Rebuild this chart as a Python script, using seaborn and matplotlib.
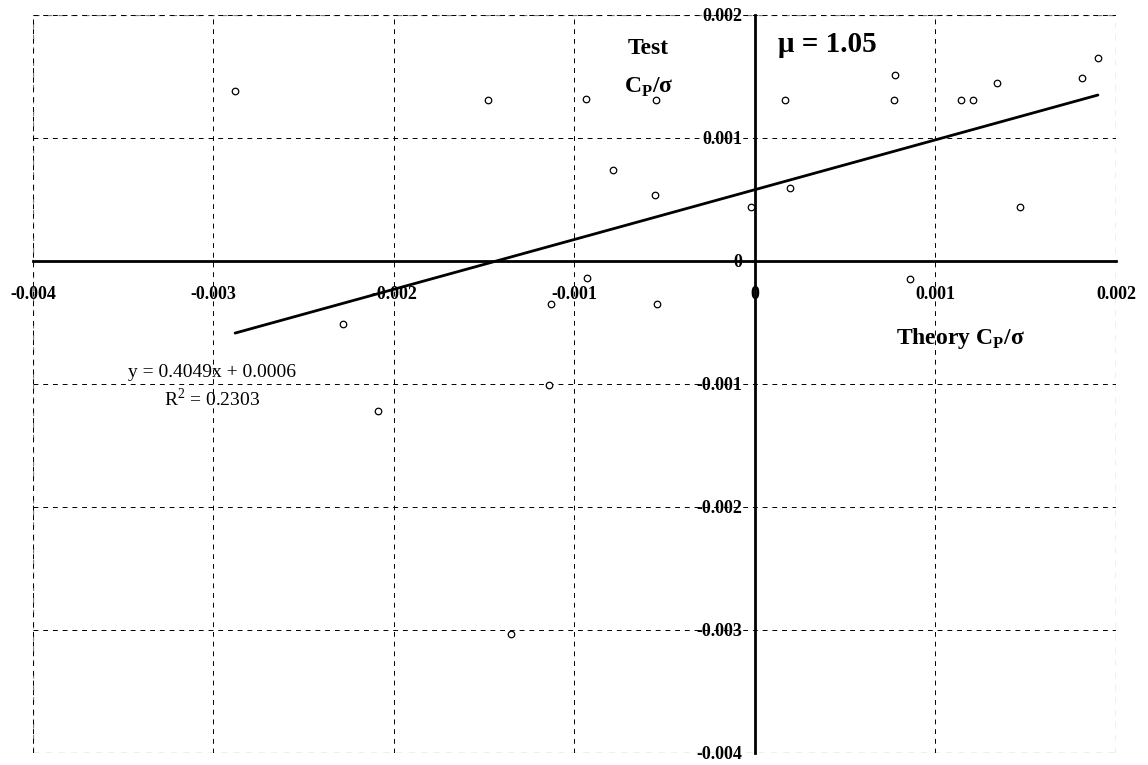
import matplotlib
matplotlib.use("Agg")
import matplotlib.pyplot as plt
import seaborn as sns
import numpy as np
import pandas as pd

# theory vs test Cp/sigma, mu = 1.05
theory_cp = [-0.00288, -0.00148, -0.000936, -0.000548, -0.000787, -0.000554,
             -0.000022, 0.000166, 0.000194, 0.00077, 0.000776, 0.00114,
             0.00121, 0.00134, 0.00147, 0.00181, 0.00190, 0.00086,
             -0.000931, -0.00113, -0.000543, -0.00228, -0.00114, -0.00209,
             -0.00135]
test_cp = [0.00138, 0.00131, 0.00132, 0.00131, 0.00074, 0.00054,
           0.00044, 0.00131, 0.00059, 0.00131, 0.00151, 0.00131,
           0.00131, 0.00145, 0.00044, 0.00149, 0.00165, -0.00015,
           -0.00014, -0.00035, -0.00035, -0.00051, -0.00101, -0.00122,
           -0.00303]

fit_slope = 0.4049
fit_intercept = 0.00058
fit_x = [-0.00288, 0.00190]

x_ticks = [-0.004, -0.003, -0.002, -0.001, 0, 0.001, 0.002]
y_ticks = [-0.004, -0.003, -0.002, -0.001, 0, 0.001, 0.002]
tick_labels = ['-0.004', '-0.003', '-0.002', '-0.001', '0', '0.001', '0.002']

sns.set_style("white")
plt.rcParams['font.family'] = ['Liberation Serif', 'DejaVu Serif']
plt.rcParams['mathtext.fontset'] = 'custom'
plt.rcParams['mathtext.rm'] = 'Liberation Serif'
plt.rcParams['mathtext.bf'] = 'Liberation Serif:bold'
plt.rcParams['text.color'] = 'black'
plt.rcParams['xtick.color'] = 'black'
plt.rcParams['ytick.color'] = 'black'
plt.rcParams['axes.edgecolor'] = 'black'

df = pd.DataFrame({'theory': theory_cp, 'test': test_cp})
line_df = pd.DataFrame({'x': fit_x,
                        'y': [fit_slope * v + fit_intercept for v in fit_x]})

fig = plt.figure(figsize=(11.48, 7.65), dpi=100)
ax = fig.add_axes([0.0287, 0.0157, 0.9434, 0.9647])

# centered axes (set before tick labels, it resets ticks)
ax.spines['left'].set_position(('data', 0))
ax.spines['bottom'].set_position(('data', 0))
ax.spines['top'].set_visible(False)
ax.spines['right'].set_visible(False)
ax.spines['left'].set_linewidth(2)
ax.spines['bottom'].set_linewidth(2)

sns.scatterplot(data=df, x='theory', y='test', ax=ax, marker='o',
                s=22, facecolor='white', edgecolor='black', linewidth=0.9,
                zorder=4)
sns.lineplot(data=line_df, x='x', y='y', ax=ax, color='black', linewidth=2,
             zorder=3)

ax.set_xlim(-0.004, 0.002)
ax.set_ylim(-0.004, 0.002)
ax.set_xticks(x_ticks)
ax.set_yticks(y_ticks)
ax.set_xticklabels(tick_labels, fontweight='bold', fontsize=13)
ax.set_yticklabels(tick_labels, fontweight='bold', fontsize=13)
ax.set_xlabel('')
ax.set_ylabel('')
ax.tick_params(axis='x', direction='inout', length=8, width=1.2, pad=14)
ax.tick_params(axis='y', direction='out', length=8, width=1, pad=1)

# dashed grid incl. outer frame
ax.grid(True, linestyle=(0, (5, 5)), color='black', linewidth=0.7)
for v in [-0.004, 0.002]:
    ax.axvline(v, linestyle=(0, (5, 5)), color='gray', linewidth=0.9, zorder=0)
    ax.axhline(v, linestyle=(0, (5, 5)), color='gray', linewidth=0.9, zorder=0)
ax.set_axisbelow(True)

ax.text(-0.00059, 0.00173, 'Test', ha='center', va='center',
        fontsize=17, fontweight='bold')
ax.text(-0.00059, 0.00141, r'C$_\mathbf{P}$/σ', ha='center', va='center',
        fontsize=17, fontweight='bold')
ax.text(0.00013, 0.00176, 'μ = 1.05', ha='left', va='center',
        fontsize=21, fontweight='bold')
ax.text(0.00078, -0.00063, r'Theory C$_\mathbf{P}$/σ', ha='left', va='center',
        fontsize=17, fontweight='bold')
ax.text(-0.00301, -0.00091, 'y = 0.4049x + 0.0006', ha='center', va='center',
        fontsize=14)
ax.text(-0.00301, -0.00112, r'R$^2$ = 0.2303', ha='center', va='center',
        fontsize=14)

fig.savefig('out.png', dpi=100)
